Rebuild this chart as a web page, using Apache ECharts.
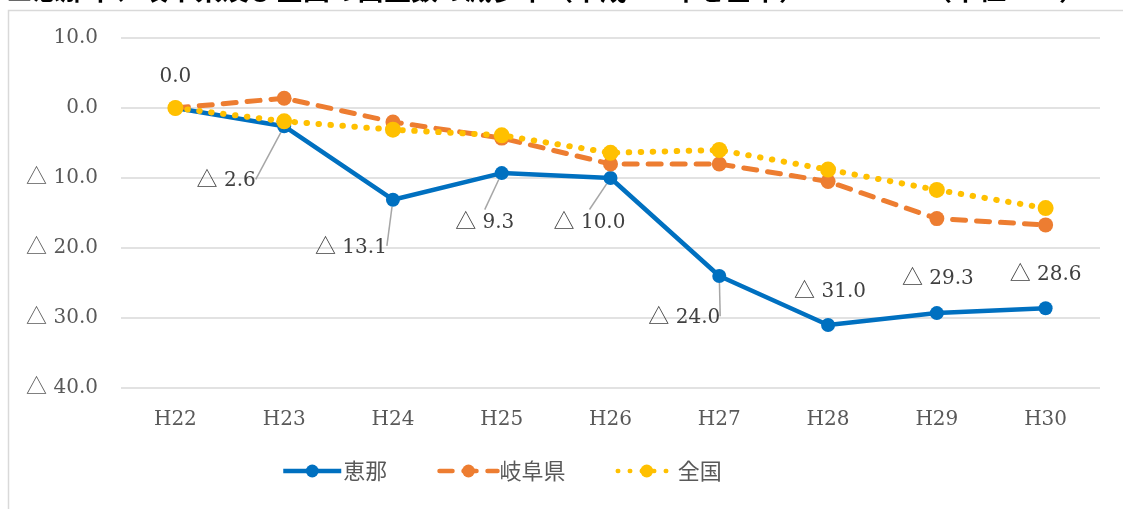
<!DOCTYPE html>
<html>
<head>
<meta charset="utf-8">
<script src="https://cdn.jsdelivr.net/npm/echarts@6/dist/echarts.min.js"></script>
<style>
  html, body { margin: 0; padding: 0; background: #fff; }
  #main { width: 1123px; height: 509px; }
</style>
</head>
<body>
<div id="main"></div>
<script>
// 年度
const years = ['H22', 'H23', 'H24', 'H25', 'H26', 'H27', 'H28', 'H29', 'H30'];
// 減少率（平成22年を基準）
const ena = [0.0, -2.6, -13.1, -9.3, -10.0, -24.0, -31.0, -29.3, -28.6];
const gifu = [0.0, 1.4, -2.0, -4.3, -8.0, -8.0, -10.5, -15.8, -16.7];
const zenkoku = [0.0, -1.9, -3.1, -3.9, -6.4, -6.0, -8.8, -11.7, -14.3];
const yTicks = [-40, 10, 10]; // min, max, interval

// 恵那のラベル位置（点からのずらし量）
const labelOffsets = [[0, -31], [-58, 55], [-42, 48], [-17, 50], [-21, 45], [-35, 42], [2, -33], [1, -34], [0, -33]];
const leader = [false, true, true, true, true, true, false, false, false];

// 負の値は △ で表す
const fmt = v => (v < 0 ? '{t|△} ' + Math.abs(v).toFixed(1) : v.toFixed(1));
const serif = '"DejaVu Serif"';
const tri = { fontFamily: '"Noto Sans CJK JP"', fontSize: 21, color: '#595959', padding: [0, 0, 6, 0] };

const chart = echarts.init(document.getElementById('main'));

const option = {
  animation: false,
  graphic: [
    {
      type: 'rect',
      shape: { x: 8.5, y: 10.5, width: 1300, height: 600 },
      style: { fill: 'none', stroke: '#d9d9d9', lineWidth: 1.5 },
      silent: true
    },
    {
      type: 'text',
      left: 6,
      top: -24,
      style: {
        text: '■恵那市、岐阜県及び全国の出生数の減少率（平成 22 年を基準）',
        font: 'bold 27px "Noto Sans CJK JP"',
        fill: '#000'
      }
    },
    {
      type: 'text',
      left: 925,
      top: -24,
      style: {
        text: '（単位：%）',
        font: 'bold 27px "Noto Sans CJK JP"',
        fill: '#000'
      }
    }
  ],
  grid: {
    left: 121,
    right: 23,
    top: 38,
    bottom: 121
  },
  legend: {
    bottom: 22,
    left: 276,
    itemWidth: 58,
    itemHeight: 16,
    itemGap: 50,
    lineStyle: { width: 4.5 },
    textStyle: { fontFamily: '"Noto Sans CJK JP"', fontSize: 22, color: '#595959', padding: [0, 0, 0, -3] },
    data: ['恵那', '岐阜県', '全国']
  },
  xAxis: {
    type: 'category',
    data: years,
    axisLine: { show: false },
    axisTick: { show: false },
    axisLabel: { fontFamily: serif, fontSize: 20, color: '#595959', margin: 22 }
  },
  yAxis: {
    type: 'value',
    min: yTicks[0],
    max: yTicks[1],
    interval: yTicks[2],
    axisLine: { show: false },
    axisTick: { show: false },
    splitLine: { lineStyle: { color: '#d9d9d9', width: 1.5 } },
    axisLabel: {
      fontFamily: serif,
      fontSize: 20,
      color: '#595959',
      margin: 23,
      formatter: fmt,
      rich: { t: tri }
    }
  },
  series: [
    {
      name: '恵那',
      type: 'line',
      data: ena.map((v, i) => ({
        value: v,
        labelLine: { show: leader[i] }
      })),
      z: 2,
      symbol: 'circle',
      symbolSize: 14,
      itemStyle: { color: '#0070C0' },
      lineStyle: { color: '#0070C0', width: 4.5 },
      label: {
        show: true,
        position: 'inside',
        fontFamily: serif,
        fontSize: 20,
        color: '#404040',
        formatter: p => fmt(p.value),
        rich: { t: Object.assign({}, tri, { fontSize: 21, color: '#404040' }) }
      },
      labelLine: {
        show: true,
        lineStyle: { color: '#a6a6a6', width: 1.5 }
      },
      labelLayout: p => ({ dx: labelOffsets[p.dataIndex][0], dy: labelOffsets[p.dataIndex][1] })
    },
    {
      name: '岐阜県',
      type: 'line',
      data: gifu,
      z: 3,
      symbol: 'circle',
      symbolSize: 15,
      itemStyle: { color: '#ED7D31' },
      lineStyle: { color: '#ED7D31', width: 5, type: [13, 11], cap: 'round' }
    },
    {
      name: '全国',
      type: 'line',
      data: zenkoku,
      z: 4,
      symbol: 'circle',
      symbolSize: 16,
      itemStyle: { color: '#FFC000' },
      lineStyle: { color: '#FFC000', width: 6, type: [0.5, 11.5], cap: 'round' }
    }
  ]
};

chart.setOption(option);
</script>
</body>
</html>
